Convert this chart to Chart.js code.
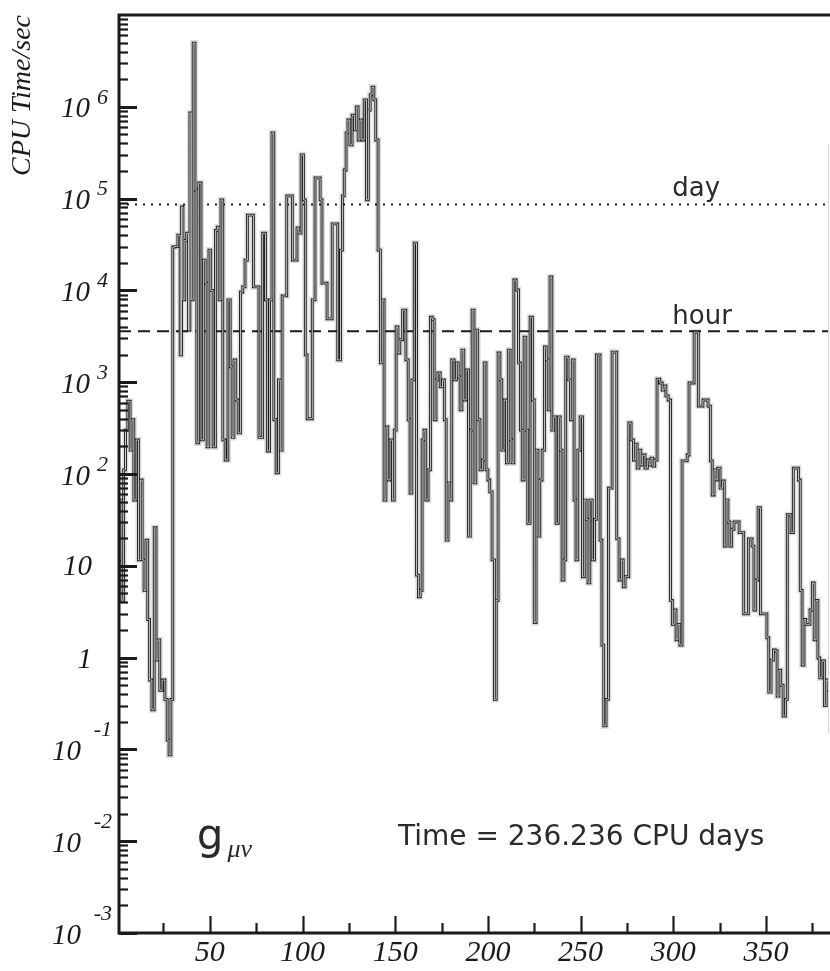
<!DOCTYPE html>
<html><head><meta charset="utf-8">
<script src="https://cdn.jsdelivr.net/npm/chart.js@4.4.1/dist/chart.umd.min.js"></script>
<style>html,body{margin:0;padding:0;background:#fff;}canvas{display:block;}</style>
</head><body>
<canvas id="c" width="830" height="971"></canvas>
<script>
// ---- data ----
const dayX = [
  1,2,3,4,5,6.5,7.5,8.5,9.5,11,
  12,13,14,15,16,17,18,19.5,20.5,21.5,
  22.5,23.5,25,26.5,27.5,28.5,29.5,30.5,32,33.5,
  34.5,35,36,37,38,39,39.5,40.5,41.5,42.5,
  43.5,44.5,46,47,48,49,50,51,52.5,53.5,
  54.5,55.5,56.5,57.5,59,60.5,61.5,62.5,63.5,64.5,
  66,67,68.5,69.5,71,73,74,75.5,77.5,79.5,
  80.5,81.5,83,84,85,86.5,87.5,88.5,89.5,91,
  92,94,95,96.5,97.5,98.5,100,101,102,103,
  104.5,106,107.5,109,110,111,112.5,114,115.5,116.5,
  118,120,121,122,123,124,125,126,127.5,128.5,
  129.5,130.5,131.5,132.5,134,135,136,137,138,139,
  140,141.5,142.5,143.5,144.5,145.5,146.5,148,149,150,
  151,152,153,155,156.5,157.5,158.5,159.5,161,162,
  163,164,165,166,167,168.5,169.5,170.5,171.5,172.5,
  173.5,175,176,177,178,179,180,181,182.5,183.5,
  184.5,185.5,186.5,187.5,189,190,191,192,193,194,
  195,196.5,197.5,198.5,199.5,200.5,201.5,203,204,205,
  206,207,208,209.5,210.5,211.5,212.5,213.5,214.5,216,
  217,218,219,220,221,222,223.5,224.5,225.5,226.5,
  227.5,228.5,230,231,232,233,234,235,236,237.5,
  238.5,239.5,240.5,241.5,242.5,244,245,246,247,248,
  249,250.5,251.5,252.5,253.5,254.5,255.5,257,258,259,
  260,261,262,263,264.5,265.5,266.5,267.5,269,270,
  271.5,272.5,273.5,274.5,275.5,276.5,278,279,280,281,
  282,283,284,285.5,286.5,287.5,288.5,289.5,290.5,292,
  293.5,294.5,295.5,296.5,298,299,300,301,302,303,
  304,305.5,307,308,309,310.5,312,313,314,315.5,
  316.5,318,319.5,320.5,321.5,322.5,323.5,324.5,326,327,
  328,329,330,331,332,333.5,335,336,337.5,338.5,
  340,341,342,343,344,345,346.5,347.5,349,350,
  351,352,353.5,354.5,355.5,356.5,357.5,358.5,360,361,
  362,363,364,365.5,367,368,369,370,371,372,
  373,374.5,375.5,376.5,377.5,378.5,379.5,381,382,383,
  384
];
const cpuSec = [
  11.6,52,4.2,111,300,620,182,390,52,235,
  11.6,86,11.6,5.4,19,2.6,0.57,0.27,26,0.94,
  1.56,0.44,0.57,0.35,0.126,0.087,0.35,29700,30000,40000,
  1980,81000,7900,35000,42000,3700,860000,7900,4950000,124000,
  218,148000,235,21400,12000,197,27500,10000,197,45000,
  49000,7900,97000,235,142,7900,1470,250,1750,640,
  280,9600,10900,21400,66000,66000,10900,10900,250,42000,
  7900,178,7900,520000,390,103,1060,182,8700,8700,
  107000,107000,21400,21400,48000,42000,300000,97000,1980,400,
  400,7900,168000,168000,97000,12000,12000,4900,4900,53000,
  53000,1750,27500,107000,205000,520000,720000,384000,810000,560000,
  995000,435000,720000,435000,1190000,97000,920000,1350000,1640000,1190000,
  435000,27500,1620,7900,52,325,86,235,52,300,
  4000,2080,2900,6100,1750,390,62,1060,32800,7.9,
  4.6,5.4,235,300,52,111,5100,4800,390,1060,
  1260,890,1060,390,19,80,52,1750,1060,1620,
  1140,500,2240,640,1360,21,300,6100,80,3700,
  390,111,142,1620,111,86,64,11.6,0.35,4.2,
  2080,1060,182,640,132,2240,235,132,13000,10100,
  1620,300,86,3100,300,29,5100,640,2.4,182,
  21,86,182,2420,1750,500,14000,300,420,29,
  420,182,7.0,11.6,1880,1060,390,1750,52,11.6,
  182,420,7.6,52,32,6.5,52,11.6,32,1980,
  1980,19,1.37,0.18,0.35,70,70,2130,2130,19.6,
  7.0,11.6,5.9,7.6,7.6,360,235,142,212,116,
  182,125,161,116,142,125,149,122,142,1080,
  980,820,910,710,640,4.2,2.3,3.3,1.56,2.3,
  1.37,139,139,161,980,980,3500,3500,550,550,
  640,640,550,139,59,111,86,116,70,84,
  16.4,52,30,16.4,25,30,30,23,23,3.0,
  3.0,19.6,19.6,16.4,3.3,7.0,43,3.0,3.0,3.0,
  1.64,0.42,0.94,1.21,1.18,0.38,0.73,0.50,0.23,0.35,
  36,36,23,116,116,86,5.4,0.83,2.6,2.3,
  2.3,3.3,6.5,1.56,4.2,0.99,0.60,0.92,0.30,0.57,
  0.44
];
const refX = [1, 384];
const dayLevel = 86400;   // seconds in a day
const hourLevel = 3600;   // seconds in an hour
const xTickValues = [50, 100, 150, 200, 250, 300, 350];
const yTickExponents = [-3, -2, -1, 0, 1, 2, 3, 4, 5, 6];
const yTitle = 'CPU Time/sec';
const timeText = 'Time = 236.236 CPU days';
const dayText = 'day';
const hourText = 'hour';

// ---- build chart ----
const series = dayX.map((x, i) => ({x: x, y: cpuSec[i]}));
const dayLine = refX.map(x => ({x: x, y: dayLevel}));
const hourLine = refX.map(x => ({x: x, y: hourLevel}));

const INK = '#1b1b1b';
const serifItalic = s => 'italic ' + s + 'px "Liberation Serif", "DejaVu Serif", serif';
const sans = s => s + 'px "DejaVu Sans", sans-serif';

const deco = {
  id: 'deco',
  afterDraw(chart) {
    const {ctx, chartArea: a, scales: {x, y}} = chart;
    ctx.save();
    // frame
    ctx.strokeStyle = INK;
    ctx.lineWidth = 3;
    ctx.beginPath();
    ctx.moveTo(a.right + 1, a.top);
    ctx.lineTo(a.left, a.top);
    ctx.lineTo(a.left, a.bottom);
    ctx.lineTo(a.right + 1, a.bottom);
    ctx.stroke();
    ctx.strokeStyle = '#d4d4d4';
    ctx.lineWidth = 1;
    ctx.beginPath();
    ctx.moveTo(a.right - 0.5, a.top + 130);
    ctx.lineTo(a.right - 0.5, a.bottom - 200);
    ctx.stroke();

    // y tick marks (inward)
    ctx.strokeStyle = INK;
    const eMin = yTickExponents[0], eMax = yTickExponents[yTickExponents.length - 1] + 1;
    for (let e = eMin; e < eMax; e++) {
      for (let m = 1; m < 10; m++) {
        const py = Math.round(y.getPixelForValue(m * Math.pow(10, e))) + 0.5;
        ctx.lineWidth = m === 1 ? 3 : 2.2;
        ctx.beginPath();
        ctx.moveTo(a.left, py);
        ctx.lineTo(a.left + (m === 1 ? 18 : 9), py);
        ctx.stroke();
      }
    }
    // x tick marks (inward)
    for (let v = 25; v < x.max; v += 25) {
      const px = Math.round(x.getPixelForValue(v)) + 0.5;
      const major = v % 50 === 0;
      ctx.lineWidth = 2.2;
      ctx.beginPath();
      ctx.moveTo(px, a.bottom);
      ctx.lineTo(px, a.bottom - (major ? 17 : 10));
      ctx.stroke();
    }

    // y tick labels with superscripts
    ctx.fillStyle = INK;
    ctx.textBaseline = 'middle';
    ctx.textAlign = 'right';
    for (const e of yTickExponents) {
      const py = y.getPixelForValue(Math.pow(10, e));
      ctx.font = serifItalic(29);
      if (e === 0) { ctx.fillText('1', 92, py + 3); continue; }
      if (e === 1) { ctx.fillText('10', 92, py + 2); continue; }
      ctx.fillText('10', e < 0 ? 81 : 90, py + 3);
      ctx.font = serifItalic(22);
      ctx.fillText(String(e), e < 0 ? 112 : 108, py + (e < 0 ? -19 : -9));
    }

    // reference line labels
    ctx.fillStyle = '#2a2a2a';
    ctx.textAlign = 'left';
    ctx.textBaseline = 'alphabetic';
    ctx.font = sans(26);
    ctx.fillText(dayText, x.getPixelForValue(299.5), y.getPixelForValue(dayLevel) - 8);
    ctx.fillText(hourText, x.getPixelForValue(299.5), y.getPixelForValue(hourLevel) - 7);

    // annotations
    ctx.font = sans(28);
    ctx.fillText(timeText, x.getPixelForValue(151.5), y.getPixelForValue(0.0092));
    ctx.font = sans(42);
    ctx.fillText('g', x.getPixelForValue(43), y.getPixelForValue(0.0083));
    ctx.font = serifItalic(26);
    ctx.fillText('\u03BC\u03BD', x.getPixelForValue(59.5), y.getPixelForValue(0.0068));
    ctx.restore();
  }
};

new Chart(document.getElementById('c'), {
  type: 'line',
  data: {
    datasets: [
      {data: series, borderColor: 'rgba(255,255,255,0.85)', borderWidth: 0.9, stepped: 'middle', pointRadius: 0, order: 0},
      {data: series, borderColor: INK, borderWidth: 2.8, stepped: 'middle', pointRadius: 0, order: 1},
      {data: series, borderColor: 'rgba(0,0,0,0.13)', borderWidth: 6, stepped: 'middle', pointRadius: 0, order: 2},
      {data: dayLine, borderColor: INK, borderWidth: 2, borderDash: [2, 6], pointRadius: 0, order: 3},
      {data: hourLine, borderColor: INK, borderWidth: 2, borderDash: [12, 7], pointRadius: 0, order: 3}
    ]
  },
  options: {
    responsive: false,
    animation: false,
    devicePixelRatio: 1,
    layout: {padding: {top: 15, right: 1, left: 0, bottom: 0}},
    plugins: {legend: {display: false}, tooltip: {enabled: false}},
    scales: {
      x: {
        type: 'linear', min: 1, max: 384,
        grid: {display: false, drawTicks: false},
        border: {display: false},
        afterBuildTicks: s => { s.ticks = xTickValues.map(v => ({value: v})); },
        afterFit: s => { s.height = 38; },
        ticks: {font: {family: '"Liberation Serif", serif', style: 'italic', size: 30}, color: INK, padding: 2, maxRotation: 0, autoSkip: false,
                callback: v => String(v)}
      },
      y: {
        type: 'logarithmic', min: 1e-3, max: 1e7,
        grid: {display: false, drawTicks: false},
        border: {display: false},
        ticks: {display: false},
        afterFit: s => { s.width = 119; },
        title: {display: true, text: yTitle, align: 'end', color: INK,
                font: {family: '"Liberation Serif", serif', style: 'italic', size: 28}, padding: {top: 6, bottom: 0}}
      }
    }
  },
  plugins: [deco]
});
</script>
</body></html>
